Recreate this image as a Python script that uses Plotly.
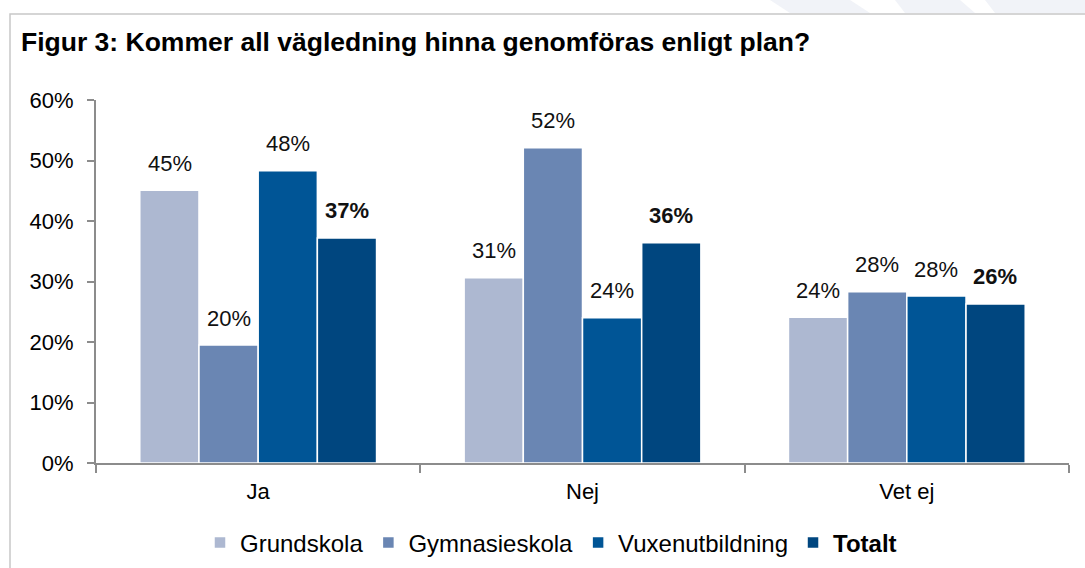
import plotly.graph_objects as go

categories = ["Ja", "Nej", "Vet ej"]
series_names = ["Grundskola", "Gymnasieskola", "Vuxenutbildning", "Totalt"]
grundskola = [0.451, 0.306, 0.241]
gymnasieskola = [0.195, 0.521, 0.283]
vuxenutbildning = [0.483, 0.240, 0.276]
totalt = [0.372, 0.364, 0.263]
labels_grund = ["45%", "31%", "24%"]
labels_gym = ["20%", "52%", "28%"]
labels_vux = ["48%", "24%", "28%"]
labels_tot = ["37%", "36%", "26%"]

colors = ["#ADB8D1", "#6A86B3", "#005596", "#00467F"]
series = [grundskola, gymnasieskola, vuxenutbildning, totalt]
labels = [labels_grund, labels_gym, labels_vux, labels_tot]

FONT = "Liberation Sans, Arial, sans-serif"
FS = 22
fig = go.Figure()
for i, (name, vals) in enumerate(zip(series_names, series)):
    fig.add_trace(go.Bar(
        x=categories, y=vals,
        name=("<b>%s</b>" % name) if name == "Totalt" else name,
        marker=dict(color=colors[i], line=dict(color="white", width=1.5)),
        hoverinfo="skip",
    ))

# data labels
bar_px = 59
for i, (vals, labs) in enumerate(zip(series, labels)):
    for c, v, t in zip(categories, vals, labs):
        fig.add_annotation(
            x=c, y=v, text=("<b>%s</b>" % t) if i == 3 else t,
            xref="x", yref="y", showarrow=False,
            xshift=(i - 1.5) * bar_px, yshift=27,
            font=dict(family=FONT, size=FS, color="#111111"),
        )

W, H = 1085, 568
ml, mr, mt, mb = 96, 16, 100, 105
pw, ph = W - ml - mr, H - mt - mb

def cx(p):
    return p / W

def cy(p):
    return 1 - p / H

# faint watermark shapes at the top right
wm = "#F1F3F8"
for x0, x1, x2, x3 in [(770, 850, 870, 790), (895, 960, 975, 905), (985, 1085, 1085, 995)]:
    fig.add_shape(type="path", xref="paper", yref="paper",
                  path="M %f %f L %f %f L %f %f L %f %f Z" % (
                      (x0 - ml) / pw, (H - mb) / ph, (x1 - ml) / pw, (H - mb) / ph,
                      (x2 - ml) / pw, (H - mb - 13) / ph, (x3 - ml) / pw, (H - mb - 13) / ph),
                  fillcolor=wm, line=dict(width=0), layer="below")

# outer frame
fig.add_shape(type="rect", xref="paper", yref="paper",
              x0=(10 - ml) / pw, x1=(W + 5 - ml) / pw, y0=(H - mb - H - 5) / ph, y1=(H - mb - 14) / ph,
              line=dict(color="#C8C8C8", width=1.5), fillcolor="rgba(0,0,0,0)", layer="below")

fig.add_annotation(
    text="<b>Figur 3: Kommer all vägledning hinna genomföras enligt plan?</b>",
    xref="paper", yref="paper", x=(19 - ml) / pw, y=(H - mb - 42) / ph,
    xanchor="left", yanchor="middle", showarrow=False,
    font=dict(family=FONT, size=26.5, color="#000000"),
)

fig.update_layout(
    width=W, height=H,
    margin=dict(l=ml, r=mr, t=mt, b=mb, autoexpand=False),
    paper_bgcolor="white", plot_bgcolor="white",
    barmode="group", bargap=0.27, bargroupgap=0,
    font=dict(family=FONT, size=FS, color="#000000"),
    showlegend=True,
    legend=dict(orientation="h", xref="container", yref="container",
                x=cx(551), xanchor="center", y=cy(543), yanchor="middle",
                font=dict(family=FONT, size=24, color="#000000"),
                itemwidth=30, tracegroupgap=0),
)
fig.update_yaxes(
    range=[0, 0.6], dtick=0.1, tickformat=".0%", showgrid=False, zeroline=False,
    showline=True, linecolor="#8C8C8C", linewidth=2,
    ticks="outside", ticklen=7, tickcolor="#8C8C8C", tickwidth=2,
    tickfont=dict(family=FONT, size=FS, color="#000000"), ticklabelstandoff=9,
)
fig.update_xaxes(
    showgrid=False, showline=True, linecolor="#8C8C8C", linewidth=2,
    ticks="outside", tickson="boundaries", ticklen=8, tickcolor="#8C8C8C", tickwidth=2,
    tickfont=dict(family=FONT, size=FS, color="#000000"), ticklabelstandoff=8,
)

fig.write_html("out.html", config={"displayModeBar": False},
               post_script="document.body.style.margin='0';document.body.style.padding='0';")
